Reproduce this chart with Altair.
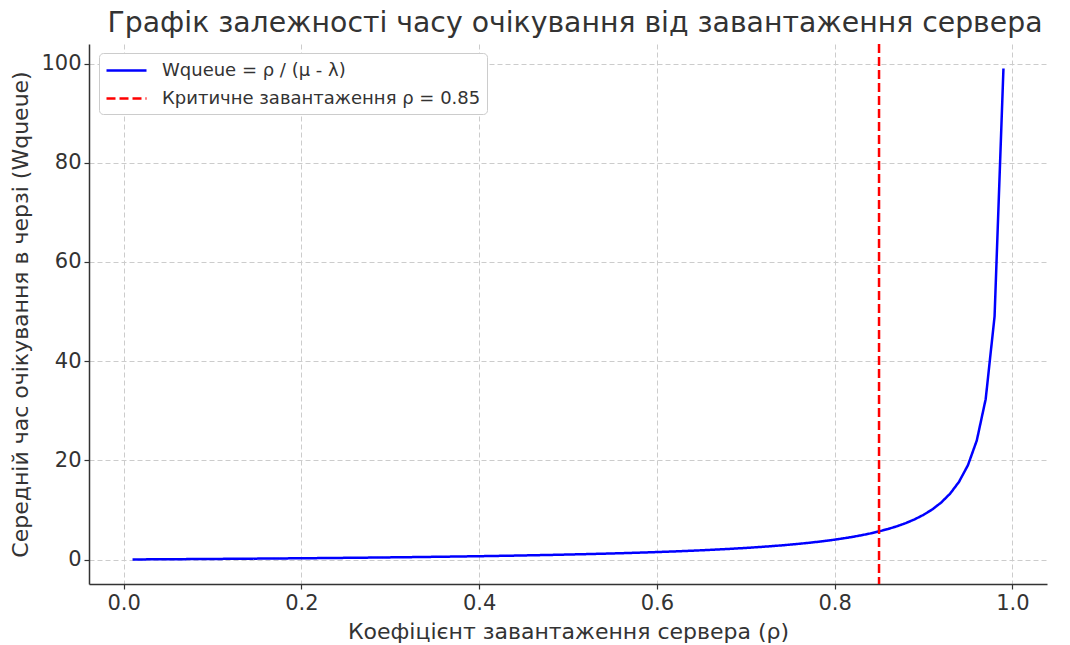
import altair as alt
import pandas as pd

rho = [0.01, 0.02, 0.03, 0.04, 0.05, 0.06, 0.07, 0.08, 0.09, 0.10,
       0.11, 0.12, 0.13, 0.14, 0.15, 0.16, 0.17, 0.18, 0.19, 0.20,
       0.21, 0.22, 0.23, 0.24, 0.25, 0.26, 0.27, 0.28, 0.29, 0.30,
       0.31, 0.32, 0.33, 0.34, 0.35, 0.36, 0.37, 0.38, 0.39, 0.40,
       0.41, 0.42, 0.43, 0.44, 0.45, 0.46, 0.47, 0.48, 0.49, 0.50,
       0.51, 0.52, 0.53, 0.54, 0.55, 0.56, 0.57, 0.58, 0.59, 0.60,
       0.61, 0.62, 0.63, 0.64, 0.65, 0.66, 0.67, 0.68, 0.69, 0.70,
       0.71, 0.72, 0.73, 0.74, 0.75, 0.76, 0.77, 0.78, 0.79, 0.80,
       0.81, 0.82, 0.83, 0.84, 0.85, 0.86, 0.87, 0.88, 0.89, 0.90,
       0.91, 0.92, 0.93, 0.94, 0.95, 0.96, 0.97, 0.98, 0.99]

wqueue = [0.0101, 0.0204, 0.0309, 0.0417, 0.0526, 0.0638, 0.0753, 0.0870, 0.0989, 0.1111,
          0.1236, 0.1364, 0.1494, 0.1628, 0.1765, 0.1905, 0.2048, 0.2195, 0.2346, 0.25,
          0.2658, 0.2821, 0.2987, 0.3158, 0.3333, 0.3514, 0.3699, 0.3889, 0.4085, 0.4286,
          0.4493, 0.4706, 0.4925, 0.5152, 0.5385, 0.5625, 0.5873, 0.6129, 0.6393, 0.6667,
          0.6949, 0.7241, 0.7544, 0.7857, 0.8182, 0.8519, 0.8868, 0.9231, 0.9608, 1.0,
          1.0408, 1.0833, 1.1277, 1.1739, 1.2222, 1.2727, 1.3256, 1.3810, 1.4390, 1.5,
          1.5641, 1.6316, 1.7027, 1.7778, 1.8571, 1.9412, 2.0303, 2.125, 2.2258, 2.3333,
          2.4483, 2.5714, 2.7037, 2.8462, 3.0, 3.1667, 3.3478, 3.5455, 3.7619, 4.0,
          4.2632, 4.5556, 4.8824, 5.25, 5.6667, 6.1429, 6.6923, 7.3333, 8.0909, 9.0,
          10.1111, 11.5, 13.2857, 15.6667, 19.0, 24.0, 32.3333, 49.0, 99.0]

critical_rho = [0.85]

series_names = ["Wqueue = ρ / (μ - λ)", "Критичне завантаження ρ = 0.85"]
series_colors = ["#0000ff", "#ff0000"]
x_ticks = [0.0, 0.2, 0.4, 0.6, 0.8, 1.0]
y_ticks = [0, 20, 40, 60, 80, 100]

title_text = "Графік залежності часу очікування від завантаження сервера"
x_title = "Коефіцієнт завантаження сервера (ρ)"
y_title = "Середній час очікування в черзі (Wqueue)"

df_line = pd.DataFrame({"rho": rho, "w": wqueue, "series": series_names[0]})
df_rule = pd.DataFrame({"rho": critical_rho, "series": series_names[1]})

font = "DejaVu Sans"

x_scale = alt.Scale(domain=[-0.039, 1.039], nice=False, zero=False)
y_scale = alt.Scale(domain=[-4.94, 103.95], nice=False, zero=False)


def make_legend():
    return alt.Legend(title=None, orient="none", legendX=10, legendY=9,
                      symbolType="M-1,0H3", symbolSize=400, symbolStrokeWidth=2.5,
                      labelFontSize=18, labelFont=font, labelColor="#333",
                      labelLimit=600, labelOffset=34,
                      rowPadding=7, padding=6, fillColor="white",
                      strokeColor="#cccccc", cornerRadius=4)


color = alt.Color("series:N",
                  scale=alt.Scale(domain=series_names, range=series_colors),
                  legend=make_legend())
dash = alt.StrokeDash("series:N",
                      scale=alt.Scale(domain=series_names, range=[[1, 0], [9, 4]]),
                      legend=make_legend())

line = alt.Chart(df_line).mark_line(strokeWidth=2.5).encode(
    x=alt.X("rho:Q", scale=x_scale,
            axis=alt.Axis(values=x_ticks, format=".1f", title=x_title)),
    y=alt.Y("w:Q", scale=y_scale,
            axis=alt.Axis(values=y_ticks, format="d", title=y_title)),
    color=color,
    strokeDash=dash,
)

rule = alt.Chart(df_rule).mark_rule(strokeWidth=2.5).encode(
    x=alt.X("rho:Q", scale=x_scale),
    color=color,
    strokeDash=dash,
)

chart = alt.layer(line, rule).properties(
    width=958, height=540,
    autosize=alt.AutoSizeParams(type="none"),
    padding={"left": 81, "top": 36, "right": 15, "bottom": 80},
    title=alt.Title(title_text, font=font, fontSize=28.3, fontWeight="normal",
                    color="#333", anchor="middle", dx=7, offset=4),
).configure_view(stroke=None).configure_axis(
    grid=True, gridColor="#cccccc", gridDash=[5, 3], gridWidth=1,
    domainColor="#333", domainWidth=1.5, tickColor="#333", tickSize=5, tickWidth=1.2,
    labelColor="#333", titleColor="#333", titleFontWeight="normal",
    labelFont=font, titleFont=font, labelFontSize=21, titleFontSize=22,
).configure_axisX(
    labelPadding=3, titlePadding=8,
).configure_axisY(
    labelPadding=3, titlePadding=8,
)

chart.save("out.html", embed_options={"renderer": "svg", "actions": False})
